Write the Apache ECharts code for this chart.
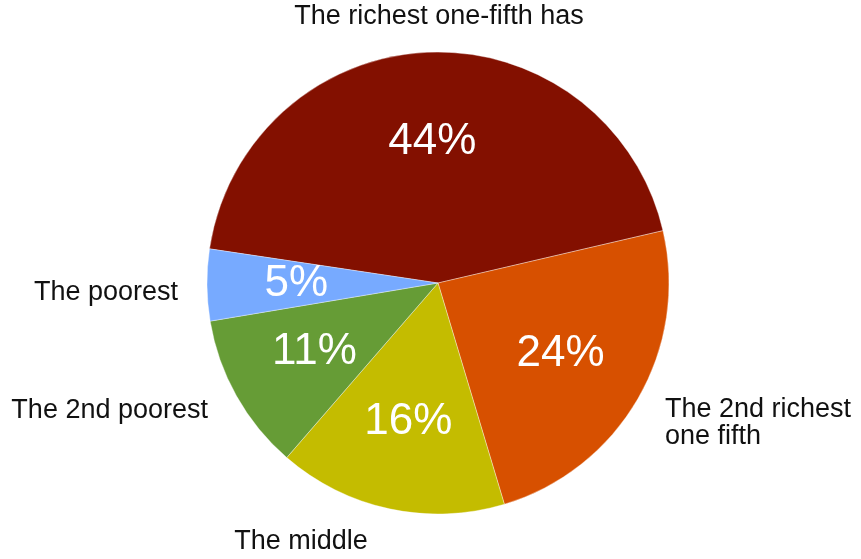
<!DOCTYPE html>
<html>
<head>
<meta charset="utf-8">
<title>Income share by fifth</title>
<script src="https://cdn.jsdelivr.net/npm/echarts@6/dist/echarts.min.js"></script>
<style>
  html, body { margin: 0; padding: 0; background: #ffffff; }
  #chart { width: 861px; height: 559px; }
</style>
</head>
<body>
<div id="chart"></div>
<script>
// Share of total income held by each fifth of the population
const groups = [
  'The richest one-fifth has',
  'The 2nd richest\none fifth',
  'The middle',
  'The 2nd poorest',
  'The poorest'
];
const shares = [44, 24, 16, 11, 5];
const sliceColors = ['#831000', '#d75000', '#c4bc00', '#669c36', '#77aaff'];

// Where each group's caption sits around the pie
const captionSpots = [
  { x: 439, y: 17,  align: 'center' },
  { x: 665, y: 423, align: 'left' },
  { x: 301, y: 542, align: 'center' },
  { x: 208, y: 411, align: 'right' },
  { x: 178, y: 293, align: 'right' }
];

const FONT = '"Helvetica Neue", Helvetica, "Liberation Sans", Arial, sans-serif';
const CENTER = [438, 283];
const RADIUS = 231;
const START = 171.5;

const pieData = groups.map((name, i) => ({
  name: name,
  value: shares[i],
  itemStyle: { color: sliceColors[i] }
}));

const chart = echarts.init(document.getElementById('chart'), null, { renderer: 'canvas' });

chart.setOption({
  animation: false,
  series: [
    {
      // the coloured slices, with group captions outside
      type: 'pie',
      center: CENTER,
      radius: [0, RADIUS],
      startAngle: START,
      clockwise: true,
      avoidLabelOverlap: false,
      silent: true,
      itemStyle: { borderColor: 'rgba(255,255,255,0.6)', borderWidth: 0.6 },
      label: {
        show: true,
        position: 'outside',
        formatter: '{b}',
        color: '#111111',
        fontFamily: FONT,
        fontSize: 27,
        lineHeight: 27
      },
      labelLine: { show: false },
      labelLayout: function (p) {
        const s = captionSpots[p.dataIndex];
        return { x: s.x, y: s.y, align: s.align, verticalAlign: 'middle' };
      },
      data: pieData
    },
    {
      // same slices, invisible, used to place the percentage labels further out
      type: 'pie',
      center: CENTER,
      radius: [0, RADIUS * 1.2],
      startAngle: START,
      clockwise: true,
      silent: true,
      itemStyle: { color: 'rgba(0,0,0,0)' },
      label: {
        show: true,
        position: 'inside',
        formatter: '{c}%',
        color: '#ffffff',
        fontFamily: FONT,
        fontSize: 44
      },
      labelLine: { show: false },
      data: groups.map((name, i) => ({ name: name, value: shares[i] }))
    }
  ]
});
</script>
</body>
</html>
